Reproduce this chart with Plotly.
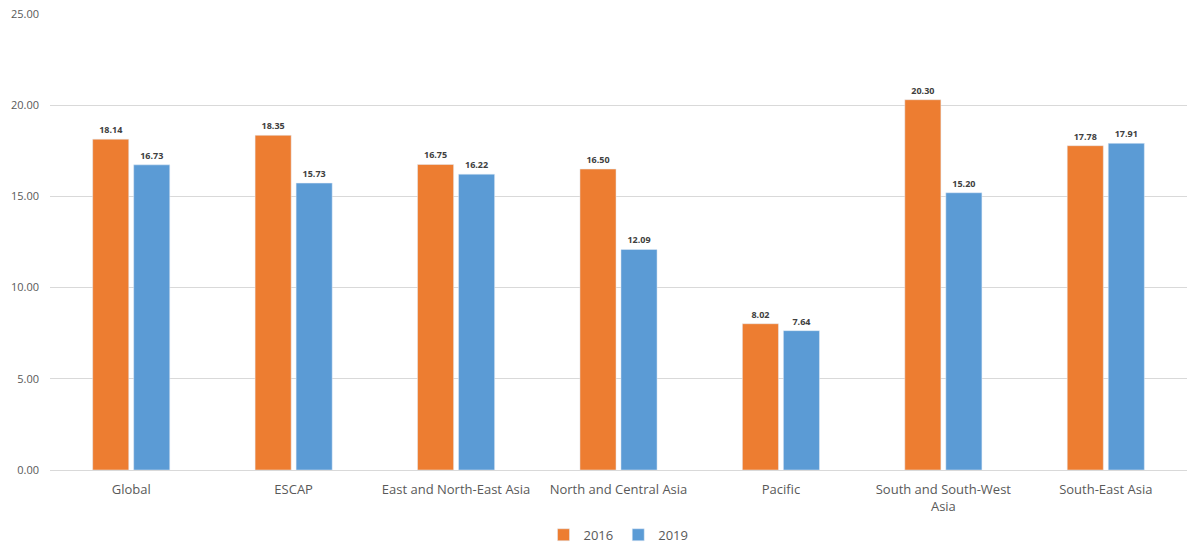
import plotly.graph_objects as go

categories = ["Global", "ESCAP", "East and North-East Asia", "North and Central Asia",
              "Pacific", "South and South-West<br>Asia", "South-East Asia"]
values_2016 = [18.14, 18.35, 16.75, 16.50, 8.02, 20.30, 17.78]
values_2019 = [16.73, 15.73, 16.22, 12.09, 7.64, 15.20, 17.91]
y_ticks = [0, 5, 10, 15, 20, 25]

font_family = "Open Sans, Lato, sans-serif"

fig = go.Figure()
for name, vals, color in [("2016", values_2016, "#ED7D31"), ("2019", values_2019, "#5B9BD5")]:
    fig.add_trace(go.Bar(
        x=categories, y=vals, name=name, marker_color=color,
        text=[f"{v:.2f}" for v in vals], textposition="outside",
        texttemplate="<b>%{text}</b>",
        textfont=dict(size=9, color="#404040", family=font_family),
        cliponaxis=False,
    ))

fig.update_layout(
    width=1187, height=550,
    margin=dict(l=50, r=0, t=14, b=80, autoexpand=False),
    plot_bgcolor="white", paper_bgcolor="white",
    barmode="group", bargap=0.495, bargroupgap=0.12,
    font=dict(family=font_family, color="#595959"),
    legend=dict(orientation="h", x=0.5, xanchor="center", y=-0.175, yanchor="bottom",
                font=dict(size=13, color="#595959"), traceorder="normal",
                itemwidth=30),
    xaxis=dict(tickfont=dict(size=13, color="#595959"), showline=True,
               linecolor="#D9D9D9", linewidth=1, ticks="", automargin=False,
               ticklabelstandoff=7),
    yaxis=dict(range=[0, 25], tickvals=y_ticks, tickformat=".2f",
               tickfont=dict(size=11, color="#595959"), gridcolor="#D9D9D9",
               zeroline=False, showline=False, ticklabelstandoff=10, automargin=False),
)

fig.write_html("out.html")
